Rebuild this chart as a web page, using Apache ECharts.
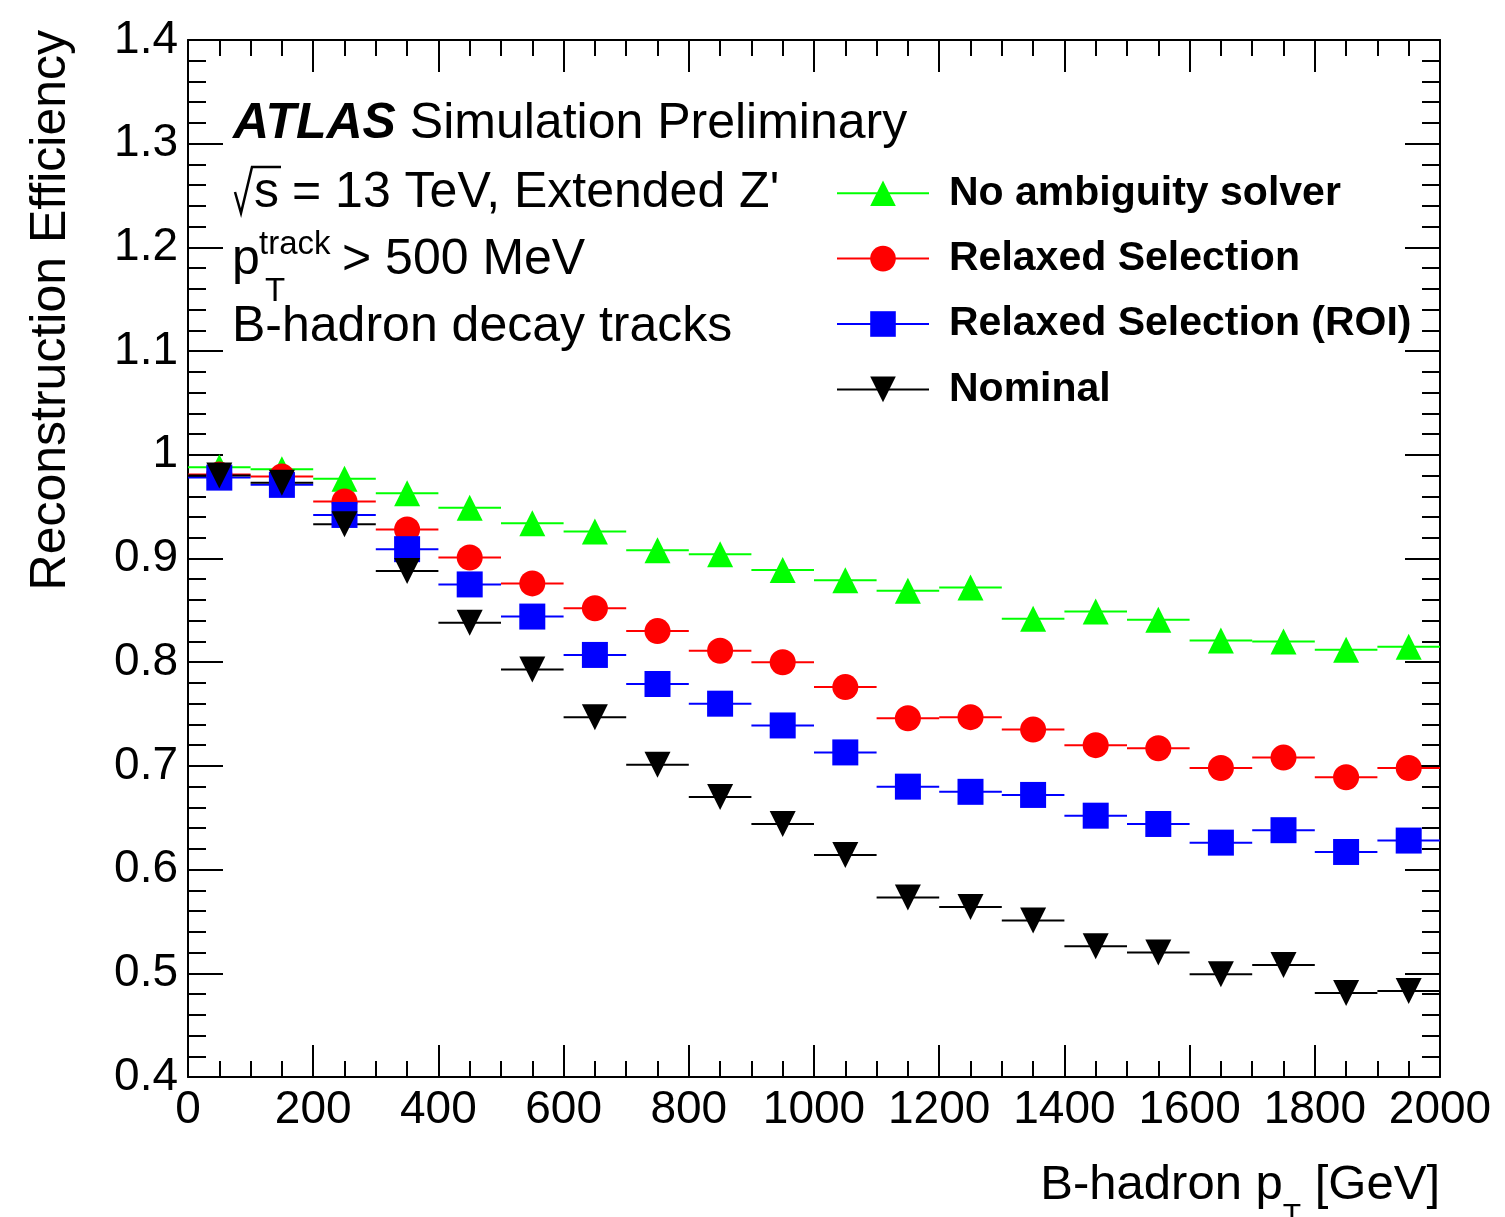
<!DOCTYPE html>
<html>
<head>
<meta charset="utf-8">
<script src="https://cdn.jsdelivr.net/npm/echarts@6/dist/echarts.min.js"></script>
<style>html,body{margin:0;padding:0;background:#fff}#c{width:1505px;height:1217px}</style>
</head>
<body>
<div id="c"></div>
<script>
// ---- data ----
const binCenters = [50, 150, 250, 350, 450, 550, 650, 750, 850, 950, 1050, 1150, 1250, 1350, 1450, 1550, 1650, 1750, 1850, 1950];
const binHalfWidth = 50;
const noAmbiguity = [0.988, 0.986, 0.977, 0.963, 0.949, 0.934, 0.926, 0.908, 0.904, 0.889, 0.879, 0.869, 0.872, 0.842, 0.849, 0.841, 0.821, 0.820, 0.812, 0.815];
const relaxed     = [0.981, 0.979, 0.955, 0.928, 0.901, 0.876, 0.852, 0.830, 0.811, 0.800, 0.776, 0.746, 0.747, 0.735, 0.720, 0.717, 0.698, 0.708, 0.689, 0.698];
const relaxedROI  = [0.978, 0.971, 0.942, 0.909, 0.875, 0.844, 0.807, 0.779, 0.760, 0.739, 0.713, 0.680, 0.675, 0.672, 0.652, 0.644, 0.626, 0.638, 0.617, 0.628];
const nominal     = [0.980, 0.973, 0.933, 0.888, 0.838, 0.793, 0.747, 0.701, 0.670, 0.644, 0.614, 0.573, 0.564, 0.551, 0.526, 0.520, 0.499, 0.508, 0.481, 0.483];
const seriesNames = ['No ambiguity solver', 'Relaxed Selection', 'Relaxed Selection (ROI)', 'Nominal'];
const xTickLabels = ['0', '200', '400', '600', '800', '1000', '1200', '1400', '1600', '1800', '2000'];
const yTickLabels = ['0.4', '0.5', '0.6', '0.7', '0.8', '0.9', '1', '1.1', '1.2', '1.3', '1.4'];

// ---- style ----
const FONT = '"Liberation Sans", Arial, Helvetica, sans-serif';
const colors = ['#00ff00', '#ff0000', '#0000ff', '#000000'];
const symbols = ['triangle', 'circle', 'rect', 'triangle'];
const rotates = [0, 0, 0, 180];
const allValues = [noAmbiguity, relaxed, relaxedROI, nominal];

const chart = echarts.init(document.getElementById('c'), null, {renderer: 'canvas'});

function mkData(vals) { return binCenters.map((c, i) => [c, vals[i]]); }

function segSeries(vals, color) {
  return {
    type: 'custom', xAxisIndex: 0, yAxisIndex: 0, silent: true, z: 1,
    data: mkData(vals),
    renderItem: function (params, api) {
      const x = api.value(0), y = api.value(1);
      const p1 = api.coord([x - binHalfWidth, y]);
      const p2 = api.coord([x + binHalfWidth, y]);
      return {type: 'line', shape: {x1: p1[0], y1: p1[1], x2: p2[0], y2: p2[1]}, style: {stroke: color, lineWidth: 2}};
    }
  };
}

const series = [];
allValues.forEach((v, i) => series.push(segSeries(v, colors[i])));
allValues.forEach((v, i) => series.push({
  type: 'line', name: seriesNames[i], data: mkData(v), z: 3 + i,
  symbol: symbols[i], symbolSize: 26, symbolRotate: rotates[i], showAllSymbol: true,
  itemStyle: {color: colors[i], opacity: 1},
  lineStyle: {color: colors[i], width: 2, opacity: 0},
  emphasis: {disabled: true}, silent: true
}));

const xCommon = {
  type: 'value', min: 0, max: 2000, interval: 200,
  axisLine: {show: true, onZero: false, lineStyle: {color: '#000', width: 2}},
  axisTick: {show: true, inside: true, length: 32, lineStyle: {color: '#000', width: 2}},
  minorTick: {show: true, splitNumber: 4, length: 16, lineStyle: {color: '#000', width: 2}},
  splitLine: {show: false}, minorSplitLine: {show: false}
};
const yCommon = {
  type: 'value', min: 0.4, max: 1.4, interval: 0.1,
  axisLine: {show: true, onZero: false, lineStyle: {color: '#000', width: 2}},
  axisTick: {show: true, inside: true, length: 35, lineStyle: {color: '#000', width: 2}},
  minorTick: {show: true, splitNumber: 5, length: 18, lineStyle: {color: '#000', width: 2}},
  splitLine: {show: false}, minorSplitLine: {show: false}
};

const option = {
  animation: false,
  backgroundColor: '#fff',
  grid: {left: 188, right: 65, top: 40, bottom: 140, outerBoundsMode: 'none', containLabel: false},
  xAxis: [
    Object.assign({}, xCommon, {position: 'bottom',
      axisLabel: {show: true, margin: 10, color: '#000', fontFamily: FONT, fontSize: 46, showMinLabel: true, showMaxLabel: true,
        formatter: v => xTickLabels[Math.round(v / 200)]}}),
    Object.assign({}, xCommon, {position: 'top', axisLabel: {show: false}})
  ],
  yAxis: [
    Object.assign({}, yCommon, {position: 'left',
      axisLabel: {show: true, margin: 10, color: '#000', fontFamily: FONT, fontSize: 46, showMinLabel: true, showMaxLabel: true,
        formatter: v => yTickLabels[Math.round((v - 0.4) / 0.1)]}}),
    Object.assign({}, yCommon, {position: 'right', axisLabel: {show: false}})
  ],
  legend: {
    show: true, orient: 'vertical', left: 831, top: 167.7,
    itemWidth: 92, itemHeight: 32, itemGap: 24.4, selectedMode: false,
    data: seriesNames,
    lineStyle: {width: 2, opacity: 1},
    textStyle: {color: '#000', fontFamily: FONT, fontSize: 41, fontWeight: 'bold', lineHeight: 32, padding: [0, 0, 0, 15]}
  },
  graphic: [
    {type: 'text', x: 233, y: 124, silent: true, style: {
      text: '{b|ATLAS} {n|Simulation Preliminary}', fill: '#000', verticalAlign: 'middle', align: 'left',
      fontFamily: FONT, fontSize: 50,
      rich: {b: {fontFamily: FONT, fontSize: 50, fontWeight: 'bold', fontStyle: 'italic', fill: '#000'},
             n: {fontFamily: FONT, fontSize: 50, fill: '#000'}}}},
    {type: 'polyline', silent: true, shape: {points: [[235, 192], [241, 213], [252, 167], [281, 167]]},
      style: {stroke: '#000', lineWidth: 2.5, fill: null}},
    {type: 'text', x: 254, y: 193, silent: true, style: {text: 's', fill: '#000', fontFamily: FONT, fontSize: 50, verticalAlign: 'middle', align: 'left'}},
    {type: 'text', x: 292, y: 193, silent: true, style: {text: "= 13 TeV, Extended Z'", fill: '#000', fontFamily: FONT, fontSize: 50, verticalAlign: 'middle', align: 'left'}},
    {type: 'text', x: 232, y: 260.5, silent: true, style: {text: 'p', fill: '#000', fontFamily: FONT, fontSize: 50, verticalAlign: 'middle', align: 'left'}},
    {type: 'text', x: 259, y: 244.6, silent: true, style: {text: 'track', fill: '#000', fontFamily: FONT, fontSize: 33, verticalAlign: 'middle', align: 'left'}},
    {type: 'text', x: 265, y: 292.2, silent: true, style: {text: 'T', fill: '#000', fontFamily: FONT, fontSize: 33, verticalAlign: 'middle', align: 'left'}},
    {type: 'text', x: 342, y: 260.5, silent: true, style: {text: '> 500 MeV', fill: '#000', fontFamily: FONT, fontSize: 50, verticalAlign: 'middle', align: 'left'}},
    {type: 'text', x: 232, y: 327.5, silent: true, style: {text: 'B-hadron decay tracks', fill: '#000', fontFamily: FONT, fontSize: 50, verticalAlign: 'middle', align: 'left'}},
    {type: 'text', x: 51, y: 30, rotation: Math.PI / 2, silent: true, style: {text: 'Reconstruction Efficiency', fill: '#000', fontFamily: FONT, fontSize: 50, verticalAlign: 'middle', align: 'right'}},
    {type: 'text', x: 1440, y: 1161, silent: true, style: {
      text: '{a|B-hadron p}{s|T}{a| [GeV]}', fill: '#000', align: 'right', verticalAlign: 'top', fontFamily: FONT, fontSize: 50,
      rich: {a: {fontFamily: FONT, fontSize: 49, verticalAlign: 'top', fill: '#000'},
             s: {fontFamily: FONT, fontSize: 30, verticalAlign: 'top', padding: [40, 0, 0, 0], fill: '#000'}}}}
  ],
  series: series
};
chart.setOption(option);
</script>
</body>
</html>
